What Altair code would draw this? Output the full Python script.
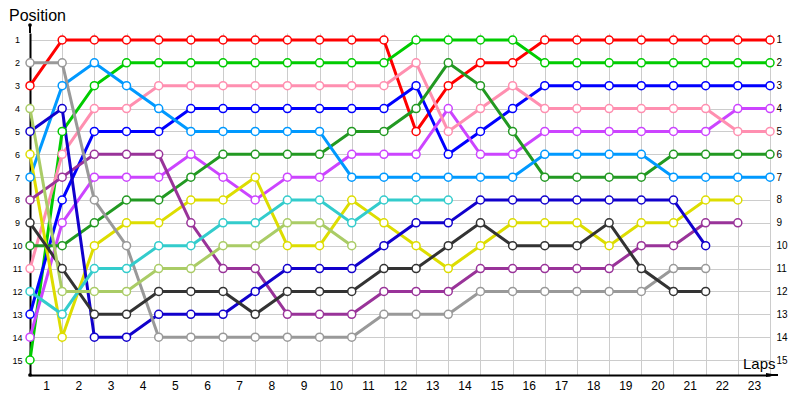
import altair as alt
import pandas as pd

# ---- data ----
laps = list(range(0, 24))          # lap 0 = grid (start)
positions = list(range(1, 16))

drivers = ["red", "green", "blue", "magenta", "pink", "dark_green", "light_blue",
           "yellow", "purple", "navy", "gray", "black", "cyan", "olive"]
colors = ["#ff0000", "#00cc00", "#0000ff", "#cc44ff", "#ff8fb0", "#229922", "#0099ff",
          "#dddd00", "#993399", "#1100cc", "#999999", "#333333", "#33cccc", "#aacc66"]

red = [3, 1, 1, 1, 1, 1, 1, 1, 1, 1, 1, 1, 5, 3, 2, 2, 1, 1, 1, 1, 1, 1, 1, 1]
green = [15, 5, 3, 2, 2, 2, 2, 2, 2, 2, 2, 2, 1, 1, 1, 1, 2, 2, 2, 2, 2, 2, 2, 2]
blue = [13, 8, 5, 5, 5, 4, 4, 4, 4, 4, 4, 4, 3, 6, 5, 4, 3, 3, 3, 3, 3, 3, 3, 3]
magenta = [14, 9, 7, 7, 7, 6, 7, 8, 7, 7, 6, 6, 6, 4, 6, 6, 5, 5, 5, 5, 5, 5, 4, 4]
pink = [11, 6, 4, 4, 3, 3, 3, 3, 3, 3, 3, 3, 2, 5, 4, 3, 4, 4, 4, 4, 4, 4, 5, 5]
dark_green = [10, 10, 9, 8, 8, 7, 6, 6, 6, 6, 5, 5, 4, 2, 3, 5, 7, 7, 7, 7, 6, 6, 6, 6]
light_blue = [7, 3, 2, 3, 4, 5, 5, 5, 5, 5, 7, 7, 7, 7, 7, 7, 6, 6, 6, 6, 7, 7, 7, 7]
yellow = [6, 14, 10, 9, 9, 8, 8, 7, 10, 10, 8, 9, 10, 11, 10, 9, 9, 9, 10, 9, 9, 8, 8]
purple = [8, 7, 6, 6, 6, 9, 11, 11, 13, 13, 13, 12, 12, 12, 11, 11, 11, 11, 11, 10, 10, 9, 9]
navy = [5, 4, 14, 14, 13, 13, 13, 12, 11, 11, 11, 10, 9, 9, 8, 8, 8, 8, 8, 8, 8, 10]
gray = [2, 2, 8, 10, 14, 14, 14, 14, 14, 14, 14, 13, 13, 13, 12, 12, 12, 12, 12, 12, 11, 11]
black = [9, 11, 13, 13, 12, 12, 12, 13, 12, 12, 12, 11, 11, 10, 9, 10, 10, 10, 9, 11, 12, 12]
cyan = [12, 13, 11, 11, 10, 10, 9, 9, 8, 8, 9, 8, 8, 8]
olive = [4, 12, 12, 12, 11, 11, 10, 10, 9, 9, 10]

series = {
    "red": red, "green": green, "blue": blue, "magenta": magenta, "pink": pink,
    "dark_green": dark_green, "light_blue": light_blue, "yellow": yellow,
    "purple": purple, "navy": navy, "gray": gray, "black": black,
    "cyan": cyan, "olive": olive,
}

rows = []
for order, name in enumerate(drivers):
    for lap, pos in zip(laps, series[name]):
        rows.append({"driver": name, "lap": lap, "pos": pos, "order": order})
df = pd.DataFrame(rows)

W, H = 740, 342
FONT = "Liberation Sans"

xscale = alt.Scale(domain=[0, 23], nice=False, zero=False)
yscale = alt.Scale(domain=[0.694, 15.656], reverse=True, nice=False, zero=False)
cscale = alt.Scale(domain=drivers, range=colors)

x_axis = alt.Axis(values=laps, grid=True, gridColor="#cccccc", gridWidth=1,
                  domain=True, domainColor="black", domainWidth=2,
                  ticks=False, tickSize=0, labelOffset=-16, labelPadding=5,
                  labelFontSize=12, labelFont=FONT, labelColor="black",
                  labelFlush=False, labelOverlap=False,
                  labelExpr="datum.value == 0 ? '' : datum.label", title=None)
y_left = alt.Axis(values=positions, grid=True, gridColor="#cccccc", gridWidth=1,
                  domain=True, domainColor="black", domainWidth=2,
                  ticks=False, tickSize=0, labelAlign="center", labelPadding=13,
                  labelFontSize=9, labelFont=FONT, labelColor="black",
                  labelOverlap=False, title=None)
y_right = alt.Axis(orient="right", values=positions, grid=False, domain=False,
                   ticks=False, tickSize=0, labelAlign="left", labelPadding=6,
                   labelFontSize=10, labelFont=FONT, labelColor="black",
                   labelOverlap=False, title=None)

base = alt.Chart(df)

lines = base.mark_line(strokeWidth=3).encode(
    x=alt.X("lap:Q", scale=xscale, axis=x_axis),
    y=alt.Y("pos:Q", scale=yscale, axis=y_left),
    color=alt.Color("driver:N", scale=cscale, legend=None),
    detail="driver:N",
    order=alt.Order("lap:Q"),
)

points = base.mark_point(shape="circle", size=64, fill="white", fillOpacity=1,
                         strokeWidth=1.5, opacity=1).encode(
    x=alt.X("lap:Q", scale=xscale, axis=x_axis),
    y=alt.Y("pos:Q", scale=yscale, axis=y_right),
    stroke=alt.Stroke("driver:N", scale=cscale, legend=None),
)

one = pd.DataFrame({"k": [0]})
deco = alt.Chart(one)

y_ext = deco.mark_rule(color="black", strokeWidth=2).encode(
    x=alt.value(0), y=alt.value(-8), y2=alt.value(0))
x_ext = deco.mark_rule(color="black", strokeWidth=2).encode(
    x=alt.value(W), x2=alt.value(W + 8), y=alt.value(H))
dot_top = deco.mark_point(shape="circle", filled=True, color="black", size=14, opacity=1).encode(
    x=alt.value(0), y=alt.value(-8))
dot_bot = deco.mark_point(shape="circle", filled=True, color="black", size=14, opacity=1).encode(
    x=alt.value(0), y=alt.value(H))
arrow = deco.mark_point(shape="M -1,-0.35 L 1,0 L -1,0.35 Z", filled=True, color="black",
                        size=144, opacity=1).encode(x=alt.value(W + 2), y=alt.value(H))

title_pos = deco.mark_text(text="Position", align="left", baseline="alphabetic",
                           font=FONT, fontSize=16, color="black").encode(
    x=alt.value(-21), y=alt.value(-12))
title_laps = deco.mark_text(text="Laps", align="left", baseline="alphabetic",
                            font=FONT, fontSize=15, color="black").encode(
    x=alt.value(713), y=alt.value(336))

chart = alt.layer(
    lines, points, y_ext, x_ext, dot_top, dot_bot, arrow, title_pos, title_laps
).resolve_axis(y="independent").properties(
    width=W, height=H,
    autosize=alt.AutoSizeParams(type="none"),
    padding={"left": 22, "top": 25, "right": 22, "bottom": 17},
    background="white",
).configure_view(stroke=None)

chart.save("out.html", embed_options={"renderer": "svg", "actions": False})
